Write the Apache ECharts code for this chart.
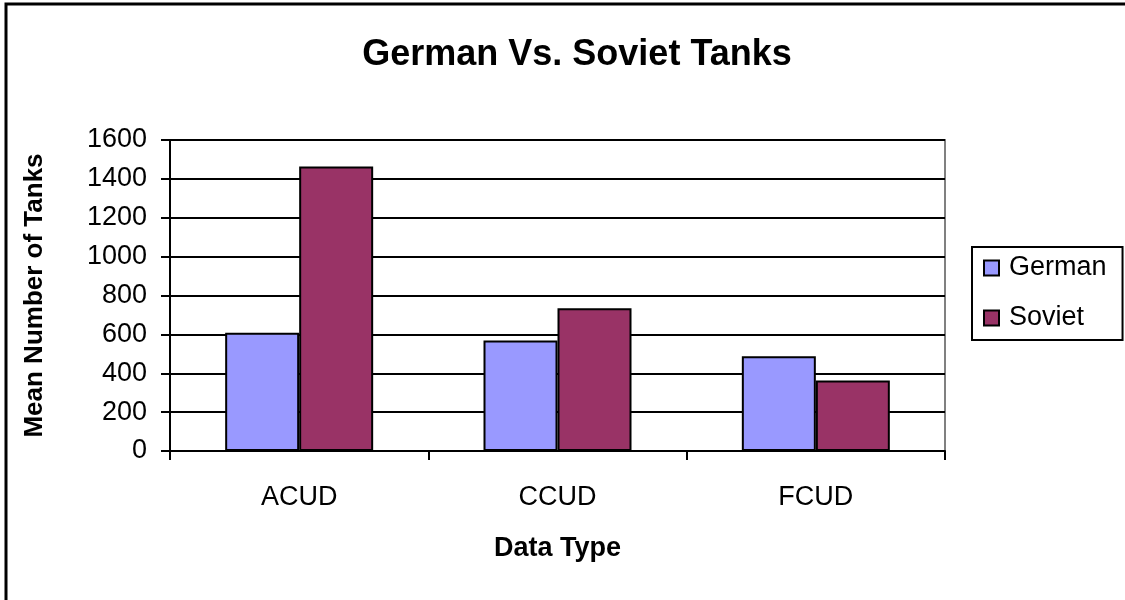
<!DOCTYPE html>
<html>
<head>
<meta charset="utf-8">
<script src="https://cdn.jsdelivr.net/npm/echarts@6/dist/echarts.min.js"></script>
<style>
  html, body { margin: 0; padding: 0; background: #fff; }
  #chart { width: 1125px; height: 600px; }
</style>
</head>
<body>
<div id="chart"></div>
<script>
// Mean tank counts by data type
const categories = ['ACUD', 'CCUD', 'FCUD'];
const germanValues = [609, 569, 487];
const sovietValues = [1464, 734, 363];
const seriesNames = ['German', 'Soviet'];

const FONT = '"Liberation Sans", Arial, sans-serif';

const chart = echarts.init(document.getElementById('chart'));

chart.setOption({
  animation: false,
  backgroundColor: '#ffffff',
  title: {
    text: 'German Vs. Soviet Tanks',
    left: 572,
    top: 32,
    textAlign: 'center',
    textStyle: { fontFamily: FONT, fontSize: 36, fontWeight: 'bold', color: '#000' }
  },
  graphic: [{
    type: 'rect',
    shape: { x: 6, y: 4, width: 1200, height: 700 },
    style: { fill: 'none', stroke: '#000', lineWidth: 3 },
    silent: true
  }],
  legend: {
    orient: 'vertical',
    left: 972,
    top: 247,
    data: seriesNames,
    icon: 'rect',
    itemWidth: 15,
    itemHeight: 15,
    itemGap: 20,
    padding: [6, 16, 7, 11],
    borderColor: '#000',
    borderWidth: 2,
    backgroundColor: '#fff',
    itemStyle: { borderColor: '#000', borderWidth: 2 },
    textStyle: { fontFamily: FONT, fontSize: 27, color: '#000', lineHeight: 30, padding: [0, 0, 0, 5] }
  },
  grid: {
    left: 170,
    top: 140,
    right: 180,
    bottom: 149,
    show: true,
    borderColor: '#808080',
    borderWidth: 2,
    backgroundColor: '#fff'
  },
  xAxis: {
    type: 'category',
    data: categories,
    name: 'Data Type',
    nameLocation: 'middle',
    nameGap: 84,
    nameTextStyle: { fontFamily: FONT, fontSize: 27, fontWeight: 'bold', color: '#000' },
    axisLine: { lineStyle: { color: '#000', width: 2 } },
    axisTick: { show: true, length: 9, lineStyle: { color: '#000', width: 2 } },
    axisLabel: { fontFamily: FONT, fontSize: 27, color: '#000', margin: 33 }
  },
  yAxis: {
    type: 'value',
    min: 0,
    max: 1600,
    interval: 200,
    name: 'Mean Number of Tanks',
    nameLocation: 'middle',
    nameGap: 122,
    nameTextStyle: { fontFamily: FONT, fontSize: 26, fontWeight: 'bold', color: '#000' },
    axisLine: { show: true, lineStyle: { color: '#000', width: 2 } },
    axisTick: { show: true, length: 9, lineStyle: { color: '#000', width: 2 } },
    axisLabel: {
      fontFamily: FONT, fontSize: 27, color: '#000', margin: 23,
      formatter: (v) => String(v)
    },
    splitLine: { show: true, lineStyle: { color: '#000', width: 2 } }
  },
  series: [
    {
      name: seriesNames[0],
      type: 'bar',
      data: germanValues,
      barWidth: 74,
      barGap: '0%',
      itemStyle: { color: '#9999FF', borderColor: '#000', borderWidth: 2 }
    },
    {
      name: seriesNames[1],
      type: 'bar',
      data: sovietValues,
      barWidth: 74,
      barGap: '0%',
      itemStyle: { color: '#993366', borderColor: '#000', borderWidth: 2 }
    }
  ]
});
</script>
</body>
</html>
